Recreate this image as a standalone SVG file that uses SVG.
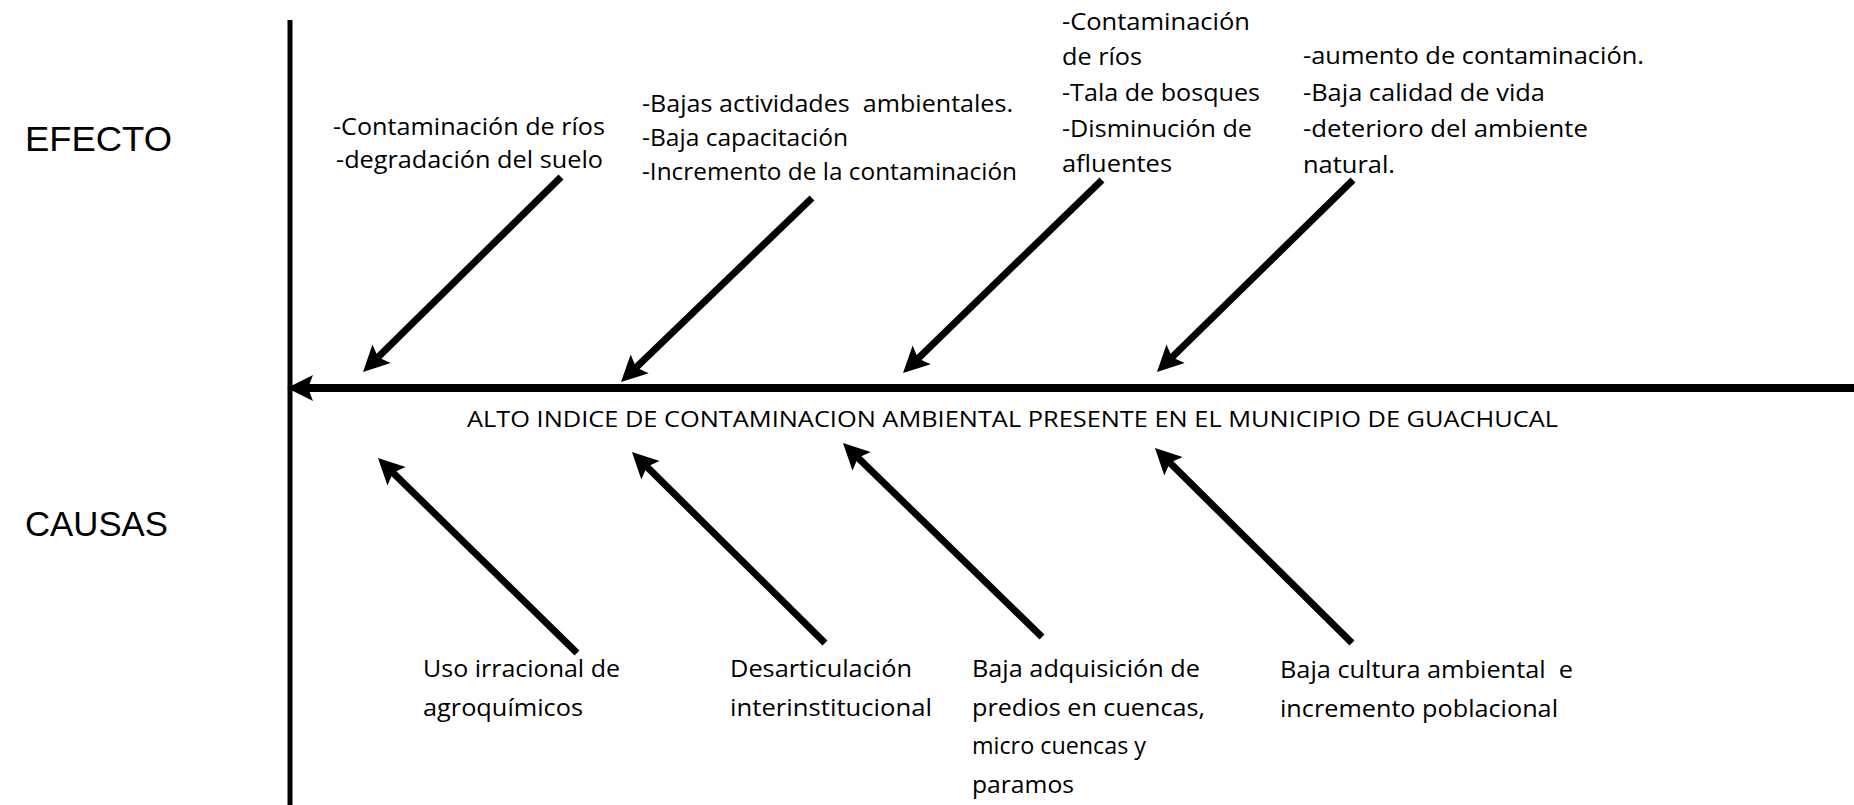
<svg xmlns="http://www.w3.org/2000/svg" width="1854" height="805" viewBox="0 0 1854 805">
<style>
.t{font-family:"Open Sans","Liberation Sans",sans-serif;font-size:23px;fill:#000}
.h{font-family:"Liberation Sans",Arial,sans-serif;font-size:35px;fill:#000}
.a{stroke:#000;stroke-width:7;fill:none}
</style>
<defs>
<marker id="ah" markerUnits="userSpaceOnUse" viewBox="-2 -16 32 32" markerWidth="32" markerHeight="32" refX="5" refY="0" orient="auto">
<path d="M0,-13 L26,0 L0,13 L5,0 Z" fill="#000"/>
</marker>
</defs>
<rect width="1854" height="805" fill="#fff"/>
<g id="labels">
<text class="h" x="25" y="151" textLength="147" lengthAdjust="spacingAndGlyphs">EFECTO</text>
<text class="h" x="25" y="536" textLength="143" lengthAdjust="spacingAndGlyphs">CAUSAS</text>
</g>
<g id="connectors">
<line x1="290" y1="20" x2="290" y2="805" stroke="#000" stroke-width="5"/>
<line x1="1854" y1="388" x2="308" y2="388" stroke="#000" stroke-width="8" marker-end="url(#ah)"/>
<line class="a" x1="561" y1="177" x2="378" y2="357.3" marker-end="url(#ah)"/>
<line class="a" x1="812" y1="198" x2="636.1" y2="367.4" marker-end="url(#ah)"/>
<line class="a" x1="1102" y1="180" x2="918.1" y2="358.4" marker-end="url(#ah)"/>
<line class="a" x1="1353" y1="180" x2="1172" y2="357.3" marker-end="url(#ah)"/>
<line class="a" x1="577" y1="653" x2="393" y2="472.7" marker-end="url(#ah)"/>
<line class="a" x1="825" y1="643" x2="646.9" y2="466.8" marker-end="url(#ah)"/>
<line class="a" x1="1042" y1="637" x2="858" y2="457.7" marker-end="url(#ah)"/>
<line class="a" x1="1352" y1="643" x2="1169.9" y2="462.8" marker-end="url(#ah)"/>
</g>
<g id="problem">
<text class="t" style="font-size:21px" x="467" y="427" textLength="1091" lengthAdjust="spacingAndGlyphs">ALTO INDICE DE CONTAMINACION AMBIENTAL PRESENTE EN EL MUNICIPIO DE GUACHUCAL</text>
</g>
<g id="efecto1">
<text class="t" x="333" y="135" textLength="272" lengthAdjust="spacingAndGlyphs">-Contaminación de ríos</text>
<text class="t" x="336" y="168" textLength="267" lengthAdjust="spacingAndGlyphs">-degradación del suelo</text>
</g>
<g id="efecto2">
<text class="t" x="642" y="112" textLength="371" lengthAdjust="spacingAndGlyphs" xml:space="preserve">-Bajas actividades  ambientales.</text>
<text class="t" x="642" y="146" textLength="206" lengthAdjust="spacingAndGlyphs">-Baja capacitación</text>
<text class="t" x="642" y="180" textLength="375" lengthAdjust="spacingAndGlyphs">-Incremento de la contaminación</text>
</g>
<g id="efecto3">
<text class="t" x="1062" y="30" textLength="188" lengthAdjust="spacingAndGlyphs">-Contaminación</text>
<text class="t" x="1062" y="65" textLength="80" lengthAdjust="spacingAndGlyphs">de ríos</text>
<text class="t" x="1062" y="101" textLength="198" lengthAdjust="spacingAndGlyphs">-Tala de bosques</text>
<text class="t" x="1062" y="137" textLength="190" lengthAdjust="spacingAndGlyphs">-Disminución de</text>
<text class="t" x="1062" y="172" textLength="110" lengthAdjust="spacingAndGlyphs">afluentes</text>
</g>
<g id="efecto4">
<text class="t" x="1303" y="64" textLength="341" lengthAdjust="spacingAndGlyphs">-aumento de contaminación.</text>
<text class="t" x="1303" y="101" textLength="242" lengthAdjust="spacingAndGlyphs">-Baja calidad de vida</text>
<text class="t" x="1303" y="137" textLength="285" lengthAdjust="spacingAndGlyphs">-deterioro del ambiente</text>
<text class="t" x="1303" y="173" textLength="92" lengthAdjust="spacingAndGlyphs">natural.</text>
</g>
<g id="causa1">
<text class="t" x="423" y="677" textLength="197" lengthAdjust="spacingAndGlyphs">Uso irracional de</text>
<text class="t" x="423" y="716" textLength="160" lengthAdjust="spacingAndGlyphs">agroquímicos</text>
</g>
<g id="causa2">
<text class="t" x="730" y="677" textLength="182" lengthAdjust="spacingAndGlyphs">Desarticulación</text>
<text class="t" x="730" y="716" textLength="202" lengthAdjust="spacingAndGlyphs">interinstitucional</text>
</g>
<g id="causa3">
<text class="t" x="972" y="677" textLength="228" lengthAdjust="spacingAndGlyphs">Baja adquisición de</text>
<text class="t" x="972" y="716" textLength="233" lengthAdjust="spacingAndGlyphs">predios en cuencas,</text>
<text class="t" x="972" y="754" textLength="174" lengthAdjust="spacingAndGlyphs">micro cuencas y</text>
<text class="t" x="972" y="793" textLength="102" lengthAdjust="spacingAndGlyphs">paramos</text>
</g>
<g id="causa4">
<text class="t" x="1280" y="678" textLength="293" lengthAdjust="spacingAndGlyphs" xml:space="preserve">Baja cultura ambiental  e</text>
<text class="t" x="1280" y="717" textLength="278" lengthAdjust="spacingAndGlyphs">incremento poblacional</text>
</g>
</svg>
